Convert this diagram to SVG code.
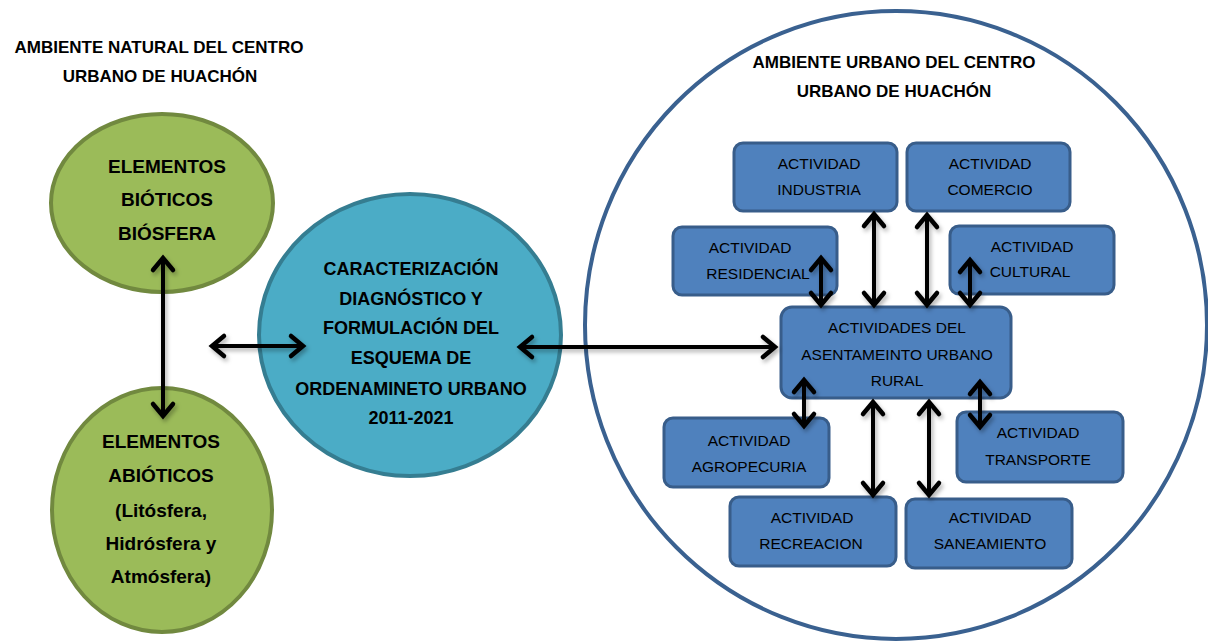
<svg xmlns="http://www.w3.org/2000/svg" width="1208" height="641" viewBox="0 0 1208 641">
<defs>
<style>
.title{font-family:"Liberation Sans",Arial,sans-serif;font-weight:bold;font-size:17px;fill:#000;text-anchor:middle}
.big{font-family:"Liberation Sans",Arial,sans-serif;font-weight:bold;font-size:19px;fill:#000;text-anchor:middle}
.mid{font-family:"Liberation Sans",Arial,sans-serif;font-weight:bold;font-size:18px;fill:#000;text-anchor:middle}
.box{fill:#4f81bd;stroke:#385d8a;stroke-width:3}
.bt{font-family:"Liberation Sans",Arial,sans-serif;font-size:15.5px;fill:#000;text-anchor:middle}
.green{fill:#9bbb59;stroke:#71893f;stroke-width:4}
.cyan{fill:#4bacc6;stroke:#357d91;stroke-width:4}
.conn line{stroke:#000;stroke-width:4;marker-start:url(#ah);marker-end:url(#ah)}
</style>
<marker id="ah" markerUnits="userSpaceOnUse" viewBox="-16 -12 20 24" refX="0" refY="0" markerWidth="20" markerHeight="24" orient="auto-start-reverse" overflow="visible">
<path d="M -12 -10 L 0 0 L -12 10" fill="none" stroke="#000" stroke-width="4.5" stroke-linecap="round" stroke-linejoin="miter"/>
</marker>
<filter id="sh" x="-20%" y="-20%" width="140%" height="140%">
<feDropShadow dx="2" dy="3" stdDeviation="2" flood-color="#000" flood-opacity="0.3"/>
</filter>
</defs>
<rect width="1208" height="641" fill="#fff"/>

<g id="titulo-natural">
<text class="title" x="159" y="53">AMBIENTE NATURAL DEL CENTRO</text>
<text class="title" x="160" y="82">URBANO DE HUACHÓN</text>
</g>

<g id="ambiente-urbano">
<ellipse cx="896" cy="325" rx="311" ry="314" fill="none" stroke="#3a6190" stroke-width="4"/>
<text class="title" x="894" y="68">AMBIENTE URBANO DEL CENTRO</text>
<text class="title" x="894" y="97">URBANO DE HUACHÓN</text>
</g>

<g id="bioticos">
<ellipse class="green" cx="162" cy="203" rx="111" ry="89"/>
<text class="big" x="167" y="173">ELEMENTOS</text>
<text class="big" x="167" y="206">BIÓTICOS</text>
<text class="big" x="167" y="240">BIÓSFERA</text>
</g>

<g id="abioticos">
<ellipse class="green" cx="162" cy="510" rx="110" ry="122"/>
<text class="big" x="161" y="448">ELEMENTOS</text>
<text class="big" x="161" y="482">ABIÓTICOS</text>
<text class="big" x="161" y="517">(Litósfera,</text>
<text class="big" x="161" y="550">Hidrósfera y</text>
<text class="big" x="161" y="583">Atmósfera)</text>
</g>

<g id="caracterizacion">
<ellipse class="cyan" cx="410" cy="335" rx="151" ry="141"/>
<text class="mid" x="411" y="275">CARACTERIZACIÓN</text>
<text class="mid" x="411" y="305">DIAGNÓSTICO Y</text>
<text class="mid" x="411" y="334">FORMULACIÓN DEL</text>
<text class="mid" x="411" y="364">ESQUEMA DE</text>
<text class="mid" x="411" y="395">ORDENAMINETO URBANO</text>
<text class="mid" x="411" y="424">2011-2021</text>
</g>

<g id="industria">
<rect class="box" x="734" y="143" width="163" height="68" rx="9"/>
<text class="bt" x="819" y="169">ACTIVIDAD</text>
<text class="bt" x="819" y="195">INDUSTRIA</text>
</g>
<g id="comercio">
<rect class="box" x="907" y="143" width="163" height="68" rx="9"/>
<text class="bt" x="990" y="169">ACTIVIDAD</text>
<text class="bt" x="990" y="195">COMERCIO</text>
</g>
<g id="residencial">
<rect class="box" x="673" y="227" width="164" height="68" rx="9"/>
<text class="bt" x="750" y="253">ACTIVIDAD</text>
<text class="bt" x="758" y="279">RESIDENCIAL</text>
</g>
<g id="cultural">
<rect class="box" x="950" y="226" width="164" height="68" rx="9"/>
<text class="bt" x="1032" y="252">ACTIVIDAD</text>
<text class="bt" x="1030" y="277">CULTURAL</text>
</g>
<g id="central">
<rect class="box" x="781" y="307" width="230" height="91" rx="11"/>
<text class="bt" x="897" y="333">ACTIVIDADES DEL</text>
<text class="bt" x="897" y="360">ASENTAMEINTO URBANO</text>
<text class="bt" x="897" y="386">RURAL</text>
</g>
<g id="agropecuria">
<rect class="box" x="664" y="418" width="165" height="69" rx="9"/>
<text class="bt" x="749" y="446">ACTIVIDAD</text>
<text class="bt" x="749" y="472">AGROPECURIA</text>
</g>
<g id="transporte">
<rect class="box" x="957" y="412" width="166" height="70" rx="9"/>
<text class="bt" x="1038" y="438">ACTIVIDAD</text>
<text class="bt" x="1038" y="465">TRANSPORTE</text>
</g>
<g id="recreacion">
<rect class="box" x="730" y="497" width="166" height="69" rx="9"/>
<text class="bt" x="812" y="523">ACTIVIDAD</text>
<text class="bt" x="811" y="549">RECREACION</text>
</g>
<g id="saneamiento">
<rect class="box" x="906" y="499" width="166" height="69" rx="9"/>
<text class="bt" x="990" y="523">ACTIVIDAD</text>
<text class="bt" x="990" y="549">SANEAMIENTO</text>
</g>

<g id="connectors" class="conn" filter="url(#sh)">
<line x1="163" y1="258" x2="163" y2="416"/>
<line x1="212" y1="346" x2="303" y2="346"/>
<line x1="520" y1="347" x2="775" y2="347"/>
<line x1="821" y1="258" x2="821" y2="305"/>
<line x1="874" y1="214" x2="874" y2="305"/>
<line x1="927" y1="215" x2="927" y2="305"/>
<line x1="970" y1="260" x2="970" y2="305"/>
<line x1="804" y1="380" x2="804" y2="426"/>
<line x1="873" y1="402" x2="873" y2="495"/>
<line x1="929" y1="402" x2="929" y2="495"/>
<line x1="980" y1="382" x2="980" y2="427"/>
</g>
</svg>
